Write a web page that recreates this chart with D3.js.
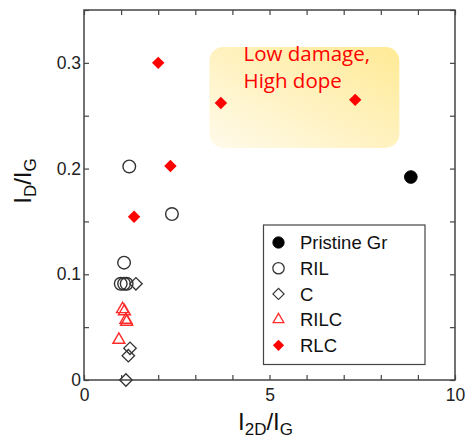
<!DOCTYPE html>
<html><head><meta charset="utf-8">
<script src="https://cdn.jsdelivr.net/npm/d3@7"></script>
<style>
html,body{margin:0;padding:0;background:#fff;}
svg{display:block;}
</style></head>
<body>
<svg id="chart" width="466" height="438"></svg>
<script>
// ---- data ----
const xTicks = [0,1,2,3,4,5,6,7,8,9,10];
const xTickLabels = {0:"0",5:"5",10:"10"};
const yTicks = [0,0.05,0.1,0.15,0.2,0.25,0.3,0.35];
const yTickLabels = {0:"0",0.1:"0.1",0.2:"0.2",0.3:"0.3"};

const pristineX = [8.81];
const pristineY = [0.192];

const rilX = [1.22, 2.37, 1.08, 0.99, 1.08, 1.15];
const rilY = [0.202, 0.157, 0.111, 0.091, 0.091, 0.091];

const cX = [1.40, 1.24, 1.195, 1.13];
const cY = [0.091, 0.030, 0.023, 0.0];

const rilcX = [1.04, 1.09, 1.13, 1.15, 0.94];
const rilcY = [0.067, 0.065, 0.057, 0.055, 0.038];

const rlcX = [2.0, 3.69, 7.31, 2.33, 1.35];
const rlcY = [0.300, 0.262, 0.265, 0.2025, 0.1545];

const legendNames = ["Pristine Gr","RIL","C","RILC","RLC"];

// ---- layout ----
const svg = d3.select("#chart");
const m = {left:84, top:10, right:11, bottom:58};
const W = 466 - m.left - m.right, H = 438 - m.top - m.bottom;
const x = d3.scaleLinear().domain([0,10]).range([0,W]);
const y = d3.scaleLinear().domain([0,0.35]).range([H,0]);
const g = svg.append("g").attr("transform",`translate(${m.left},${m.top})`);

// highlight box
const defs = svg.append("defs");
const grad = defs.append("linearGradient").attr("id","hl").attr("x1","0%").attr("y1","100%").attr("x2","100%").attr("y2","0%");
grad.append("stop").attr("offset","0%").attr("stop-color","#fffaea");
grad.append("stop").attr("offset","100%").attr("stop-color","#ffea95");
const bx0 = x(3.38), bx1 = x(8.5), by0 = y(0.315), by1 = y(0.2195);
g.append("rect").attr("x",bx0).attr("y",by0).attr("width",bx1-bx0).attr("height",by1-by0)
  .attr("rx",14).attr("ry",14).attr("fill","url(#hl)");
const ht = g.append("text").attr("fill","#ff0000").attr("font-family","'Open Sans', sans-serif").attr("font-size",20.5);
ht.append("tspan").attr("x",x(4.3)).attr("y",y(0.3015)).text("Low damage,");
ht.append("tspan").attr("x",x(4.3)).attr("y",y(0.276)).text("High dope");

// axes
const axColor = "#444";
function styleAxis(sel){
  sel.select(".domain").remove();
  sel.selectAll(".tick line").attr("stroke",axColor).attr("stroke-width",1.2);
  sel.selectAll("text").attr("fill","#222").attr("font-family","'Liberation Sans', Arial, sans-serif").attr("font-size",17.5);
}
const xb = g.append("g").attr("transform",`translate(0,${H})`)
  .call(d3.axisBottom(x).tickValues(xTicks).tickSizeInner(-5).tickSizeOuter(0).tickPadding(9)
    .tickFormat(d=>xTickLabels[d]||""));
styleAxis(xb);
const xt = g.append("g").call(d3.axisTop(x).tickValues(xTicks).tickSizeInner(-5).tickSizeOuter(0).tickFormat(""));
styleAxis(xt);
const yl = g.append("g").call(d3.axisLeft(y).tickValues(yTicks).tickSizeInner(-5).tickSizeOuter(0).tickPadding(3)
  .tickFormat(d=>yTickLabels[Math.round(d*100)/100]||""));
styleAxis(yl);
const yr = g.append("g").attr("transform",`translate(${W},0)`)
  .call(d3.axisRight(y).tickValues(yTicks).tickSizeInner(-5).tickSizeOuter(0).tickFormat(""));
styleAxis(yr);
g.append("rect").attr("x",0).attr("y",0).attr("width",W).attr("height",H)
  .attr("fill","none").attr("stroke",axColor).attr("stroke-width",1.5);

// markers
const sym = {
  circle: d3.symbol().type(d3.symbolCircle).size(Math.PI*6.3*6.3),
  diamond: d3.symbol().type(d3.symbolSquare).size(8.8*8.8),
  tri: d3.symbol().type(d3.symbolTriangle).size(62)
};
const styles = [
  {name:legendNames[0], xs:pristineX, ys:pristineY, s:"circle", fill:"#000", stroke:"#000", sw:1, rot:0},
  {name:legendNames[1], xs:rilX, ys:rilY, s:"circle", fill:"none", stroke:"#333", sw:1.4, rot:0},
  {name:legendNames[2], xs:cX, ys:cY, s:"diamond", fill:"none", stroke:"#333", sw:1.3, rot:45},
  {name:legendNames[3], xs:rilcX, ys:rilcY, s:"tri", fill:"none", stroke:"#ff2a2a", sw:1.4, rot:0},
  {name:legendNames[4], xs:rlcX, ys:rlcY, s:"diamond", fill:"#ff0000", stroke:"none", sw:0, rot:45}
];
const drawOrder = [1,2,3,4,0];
drawOrder.forEach(i=>{
  const st = styles[i];
  const pts = st.xs.map((v,k)=>({x:v,y:st.ys[k]}));
  g.append("g").selectAll("path").data(pts).join("path")
    .attr("d",sym[st.s]())
    .attr("transform",d=>`translate(${x(d.x)},${y(d.y)}) rotate(${st.rot})`)
    .attr("fill",st.fill).attr("stroke",st.stroke).attr("stroke-width",st.sw);
});

// legend
const lg = svg.append("g");
lg.append("rect").attr("x",263.5).attr("y",225).attr("width",161.5).attr("height",139.5)
  .attr("fill","#fff").attr("stroke",axColor).attr("stroke-width",1.2);
styles.forEach((st,i)=>{
  const cy = 242.5 + i*25.7;
  lg.append("path").attr("d",sym[st.s]())
    .attr("transform",`translate(278.5,${cy}) rotate(${st.rot}) scale(0.9)`)
    .attr("fill",st.fill).attr("stroke",st.stroke).attr("stroke-width",st.sw);
  lg.append("text").attr("x",300).attr("y",cy).attr("dy","0.36em")
    .attr("font-family","'Liberation Sans', Arial, sans-serif").attr("font-size",18.5).attr("fill","#111")
    .text(st.name);
});

// axis titles
const xl = svg.append("text").attr("x",m.left+x(5)-4).attr("y",430).attr("text-anchor","middle")
  .attr("font-family","'Liberation Sans', Arial, sans-serif").attr("font-size",24).attr("fill","#111");
xl.append("tspan").text("I");
xl.append("tspan").attr("font-size",17).attr("dy",4.5).text("2D");
xl.append("tspan").attr("dy",-4.5).text("/I");
xl.append("tspan").attr("font-size",17).attr("dy",4.5).text("G");

const ylab = svg.append("text").attr("transform","translate(31,181) rotate(-90)").attr("text-anchor","middle")
  .attr("font-family","'Liberation Sans', Arial, sans-serif").attr("font-size",24).attr("fill","#111");
ylab.append("tspan").text("I");
ylab.append("tspan").attr("font-size",17).attr("dy",4.5).text("D");
ylab.append("tspan").attr("dy",-4.5).text("/I");
ylab.append("tspan").attr("font-size",17).attr("dy",4.5).text("G");
</script>
</body></html>
